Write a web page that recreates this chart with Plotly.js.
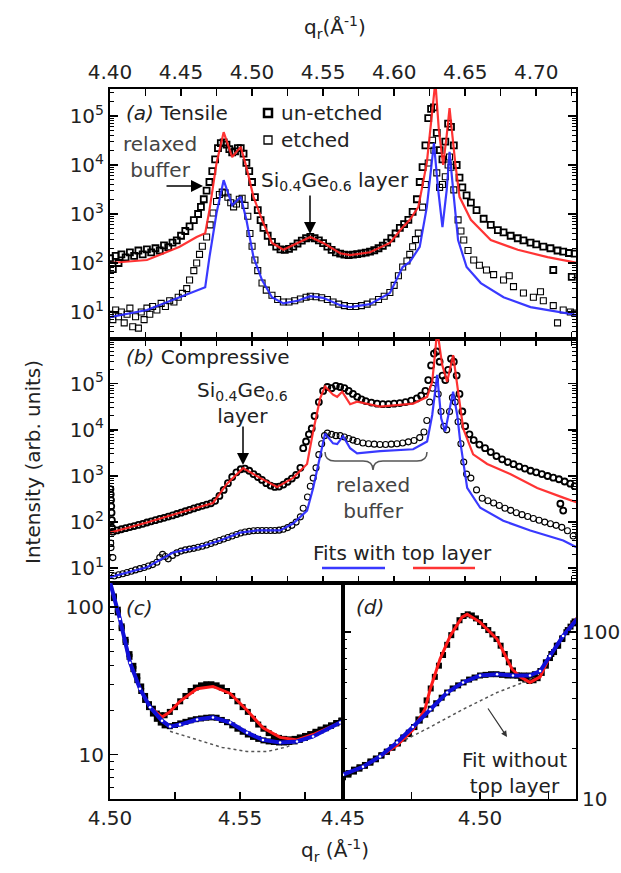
<!DOCTYPE html>
<html><head><meta charset="utf-8">
<script src="https://cdn.plot.ly/plotly-3.0.1.min.js"></script>
<style>html,body{margin:0;padding:0;background:#fff}</style>
</head><body><div id="chart" style="width:621px;height:873px"></div>
<script>
// ---------- Panel (a) Tensile ----------
const qA_red = [4.400,4.426,4.449,4.461,4.467,4.470,4.475,4.480,4.486,4.492,4.496,4.501,4.507,4.514,4.522,4.532,4.541,4.550,4.562,4.569,4.583,4.597,4.606,4.611,4.617,4.623,4.627,4.629,4.6315,4.6345,4.637,4.639,4.643,4.646,4.654,4.668,4.687,4.708,4.729];
const vA_red = [100,115,214,339,407,1200,11000,46800,14500,23400,9100,2240,760,257,186,257,339,257,158,145,166,257,537,760,1380,11000,115000,500000,50000,10000,40000,145000,11000,2240,760,295,186,132,100];
const qA_blue = [4.400,4.426,4.449,4.467,4.470,4.475,4.480,4.486,4.492,4.496,4.501,4.507,4.514,4.522,4.532,4.541,4.550,4.562,4.569,4.583,4.597,4.606,4.611,4.618,4.623,4.628,4.631,4.634,4.637,4.639,4.642,4.645,4.651,4.661,4.677,4.696,4.729];
const vA_blue = [7.9,11,20,32,132,1050,4900,1510,2240,760,132,45,20,15,17,21,19.5,13.8,12.6,14.5,24.5,83,105,214,1380,28000,3090,537,3090,18600,2240,295,83,39,20,12.6,8.7];
const qA_un = [4.400,4.402,4.404,4.406,4.408,4.411,4.414,4.417,4.420,4.423,
  4.426,4.429,4.432,4.435,4.438,4.441,4.444,4.447,4.450,4.453,
  4.456,4.459,4.462,4.464,4.466,4.468,4.470,4.472,4.474,4.476,
  4.478,4.480,4.482,4.484,4.486,4.488,4.490,4.492,4.494,4.496,
  4.498,4.500,4.502,4.504,4.506,4.508,4.511,4.514,4.517,4.520,
  4.523,4.526,4.529,4.532,4.535,4.538,4.541,4.544,4.547,4.550,
  4.553,4.556,4.559,4.562,4.565,4.568,4.571,4.574,4.577,4.580,
  4.583,4.586,4.589,4.592,4.595,4.598,4.601,4.604,4.607,4.610,
  4.613,4.616,4.618,4.620,4.622,4.624,4.626,4.628,4.630,4.632,
  4.634,4.636,4.638,4.640,4.642,4.644,4.646,4.648,4.651,4.654,
  4.658,4.663,4.668,4.673,4.677,4.682,4.687,4.691,4.696,4.700,
  4.705,4.710,4.712,4.715,4.719,4.723,4.725,4.727];
const vA_un = [125,75,140,100,150,130,165,140,180,150,
  190,165,200,180,230,210,260,290,360,450,
  560,750,1000,1400,2000,3000,4500,7500,13000,22000,
  28000,29000,26000,21000,18000,19000,22000,22000,17000,11000,
  7500,4500,2200,1200,750,520,360,270,215,190,
  185,195,215,250,285,320,340,320,290,255,
  215,185,165,155,148,145,148,152,158,163,
  170,182,200,225,260,320,400,520,620,760,
  1100,2000,4500,9000,25000,90000,140000,150000,45000,20000,
  13000,30000,70000,60000,25000,10000,5500,3500,2400,1700,
  1200,800,600,470,420,360,320,290,260,240,
  215,200,72,180,170,160,52,155];
const qA_et = [4.400,4.402,4.404,4.406,4.408,4.410,4.412,4.414,4.416,4.418,
  4.420,4.422,4.424,4.426,4.428,4.430,4.433,4.436,4.439,4.442,
  4.445,4.448,4.451,4.454,4.456,4.459,4.461,4.463,4.465,4.468,
  4.4705,4.4725,4.475,4.477,4.479,4.481,4.483,4.485,4.487,4.489,
  4.491,4.493,4.495,4.497,4.4985,4.500,4.502,4.504,4.507,4.510,
  4.514,4.518,4.522,4.526,4.530,4.534,4.538,4.541,4.545,4.549,
  4.553,4.557,4.561,4.565,4.569,4.573,4.577,4.581,4.585,4.589,
  4.593,4.597,4.600,4.603,4.606,4.609,4.611,4.613,4.615,4.617,
  4.620,4.622,4.624,4.626,4.627,4.628,4.630,4.632,4.634,4.636,
  4.638,4.639,4.640,4.642,4.645,4.647,4.649,4.652,4.656,4.660,
  4.665,4.670,4.677,4.684,4.691,4.698,4.705,4.712,4.719,4.724,
  4.727,4.703,4.715,4.681];
const vA_et = [9,7,11,8,10,6,9,12,5,8,
  4.7,10,7,12,9,13,11,15,13,17,
  16,20,24,30,45,70,100,150,220,340,
  600,1050,1800,2500,2800,2700,2200,1700,1400,1600,
  2000,2100,1500,900,400,220,115,70,39,28,
  22,18,16,16,17,18.5,20,21,20.5,19.5,
  18,16,14.5,13.5,13,13,13.5,14.5,16,18,
  21,25,35,55,83,110,150,214,300,407,
  1380,4000,11000,25000,32000,20000,6900,3500,4000,5750,
  10000,14500,9000,3100,760,450,295,180,115,90,
  72,58,45,33,24.5,20,17,13.5,11,10,
  9.5,26,6,55];

// ---------- Panel (b) Compressive ----------
const qB_red = [4.400,4.426,4.449,4.4725,4.4824,4.4937,4.5056,4.5176,4.5289,4.5387,4.5430,4.5479,4.5514,4.5570,4.5599,4.5634,4.5690,4.5739,4.5901,4.6134,4.6232,4.6268,4.6289,4.6303,4.6338,4.6373,4.6415,4.6451,4.6486,4.6556,4.6655,4.6817,4.7007,4.7190,4.7289];
const vB_red = [59,98,160,260,680,1480,910,575,910,1820,9300,48000,87000,58000,52000,67000,36000,41000,32000,37000,52000,110000,490000,1500000,257000,110000,417000,67000,10700,2950,1820,1100,550,340,265];
const qB_blue = [4.400,4.4261,4.4444,4.4613,4.4775,4.4915,4.5035,4.5197,4.5289,4.5387,4.5430,4.5479,4.5514,4.5570,4.5599,4.5641,4.5690,4.5739,4.5901,4.6134,4.6232,4.6268,4.6303,4.6331,4.6359,4.6387,4.6415,4.6444,4.6465,4.6514,4.6606,4.6768,4.6958,4.7190,4.7289];
const vB_blue = [6.4,10.5,22,28,40,59,66,66,93,178,550,2950,8300,5100,4900,7300,4000,3100,3470,3800,5600,21000,155000,17800,9300,25000,67000,21000,5600,550,205,107,66,40,28];
const qB_un = [4.4003,4.4005,4.4007,4.4009,4.4011,4.4013,4.4015,4.402,4.405,4.408,
  4.411,4.414,4.417,4.420,4.423,4.426,4.429,4.432,4.435,4.438,
  4.441,4.444,4.447,4.450,4.453,4.456,4.459,4.462,4.465,4.468,
  4.471,4.474,4.477,4.480,4.483,4.486,4.489,4.492,4.495,4.498,
  4.501,4.504,4.507,4.510,4.513,4.516,4.519,4.522,4.525,4.528,
  4.531,4.534,4.536,4.538,4.540,4.542,4.544,4.547,4.550,4.553,
  4.556,4.559,4.562,4.565,4.568,4.571,4.574,4.577,4.580,4.584,
  4.588,4.592,4.596,4.600,4.604,4.608,4.612,4.616,4.619,4.622,
  4.624,4.626,4.628,4.630,4.632,4.634,4.636,4.638,4.640,4.642,
  4.644,4.646,4.648,4.650,4.653,4.656,4.660,4.664,4.668,4.672,
  4.676,4.680,4.684,4.688,4.692,4.696,4.700,4.704,4.708,4.712,
  4.716,4.717,4.719,4.720,4.724,4.727];
const vB_un = [520,400,300,220,160,110,75,62,66,70,
  74,78,82,87,92,98,104,110,117,124,
  132,140,150,160,172,185,198,212,226,240,
  255,290,370,500,700,950,1200,1400,1450,1300,
  1100,950,820,700,620,580,590,650,750,880,
  1050,1500,4000,5600,8000,10700,20000,40000,70000,85000,
  80000,90000,85000,80000,70000,60000,52000,46000,42000,39000,
  37000,36000,36000,37000,38000,40000,43000,48000,55000,70000,
  120000,250000,450000,500000,300000,150000,120000,200000,350000,300000,
  150000,60000,25000,12000,8000,6000,4800,4000,3300,2700,
  2300,2000,1800,1600,1450,1300,1200,1100,1000,920,
  850,250,178,760,680,600];
const qB_et = [4.4005,4.4007,4.402,4.403,4.406,4.409,4.412,4.415,4.418,4.421,
  4.424,4.427,4.430,4.433,4.435,4.437,4.439,4.441,4.444,4.447,
  4.450,4.453,4.456,4.459,4.462,4.465,4.468,4.471,4.474,4.477,
  4.480,4.483,4.486,4.489,4.492,4.495,4.498,4.501,4.504,4.507,
  4.510,4.513,4.516,4.519,4.522,4.525,4.528,4.531,4.534,4.536,
  4.539,4.541,4.543,4.545,4.547,4.549,4.551,4.553,4.556,4.559,
  4.562,4.565,4.568,4.571,4.574,4.578,4.582,4.586,4.590,4.594,
  4.598,4.602,4.606,4.610,4.614,4.618,4.621,4.623,4.625,4.627,
  4.629,4.631,4.633,4.635,4.637,4.639,4.641,4.643,4.645,4.647,
  4.649,4.651,4.654,4.658,4.662,4.666,4.670,4.674,4.678,4.682,
  4.686,4.690,4.694,4.698,4.702,4.706,4.710,4.714,4.718,4.722,4.726];
const vB_et = [35,28,17,6.8,7.2,7.6,8.1,8.6,9.2,9.8,
  10.4,11.2,12,13.5,17,20,18,16,19,21.5,
  23.5,25,26,27,28.5,30,32,34.5,37,40,
  43,46.5,50,54,58,61,63,65,66,66,
  66,66,66,67,70,76,85,100,130,200,
  350,600,900,1500,2900,5000,7500,8500,8000,7500,
  7500,7000,6500,6000,5600,5200,5000,4900,4800,4800,
  4900,5000,5200,5500,5900,6800,9000,16000,40000,80000,
  120000,60000,25000,12000,10000,25000,50000,40000,15000,5000,
  2000,1100,900,500,330,290,260,230,200,180,
  160,145,132,120,110,100,92,85,77,65,50];

// ---------- Panel (c) ----------
const qC_red = [4.5000,4.5038,4.5077,4.5115,4.5154,4.5200,4.5230,4.5269,4.5335,4.5396,4.5462,4.5527,4.5588,4.5654,4.5719,4.5781,4.5885,4.5896];
const vC_red = [148,83,42,28,21,18,19.5,23,28,29,26,20,15.2,13.1,12.6,13.7,16.5,17];
const qC_blue = [4.5000,4.5038,4.5077,4.5115,4.5154,4.5200,4.5231,4.5269,4.5335,4.5396,4.5462,4.5527,4.5588,4.5654,4.5719,4.5781,4.5885,4.5896];
const vC_blue = [148,83,42,28,21,17,15.5,16,17.3,17.9,16.5,14.1,12.6,12.1,12.3,13.3,16.5,17];
const qC_none = [4.5231,4.5335,4.5431,4.5527,4.5604,4.5681,4.5720];
const vC_none = [14.4,12.6,11.2,10.5,10.5,11.3,12.3];
const qC_pts = [4.5000,4.5015,4.5030,4.5045,4.5060,4.5075,4.5090,4.5105,4.5120,4.5135,
  4.5150,4.5165,4.5180,4.5195,4.5210,4.5230,4.5250,4.5270,4.5290,4.5310,
  4.5330,4.5350,4.5370,4.5390,4.5410,4.5430,4.5450,4.5470,4.5490,4.5510,
  4.5530,4.5550,4.5570,4.5590,4.5610,4.5630,4.5650,4.5670,4.5690,4.5710,
  4.5730,4.5750,4.5770,4.5790,4.5810,4.5830,4.5850,4.5870,4.5890];
const vC_un = [140,118,96,74,60,48,40,34,29,25,
  22,20.5,19,18.5,18.5,19.5,21,23,25,27,
  28.5,29.5,30,30,29.5,28.5,27,25,23,21,
  19.5,17.5,16,15,14,13.3,13,12.8,12.7,12.8,
  13.1,13.4,13.8,14.3,14.8,15.3,15.8,16.4,17];
const vC_et = [145,115,92,72,58,46,38,32,27,23.5,
  21,19,17.5,16.5,15.8,15.6,15.9,16.3,16.7,17.1,
  17.4,17.6,17.8,17.9,17.8,17.2,16.6,15.8,15,14.3,
  13.7,13.2,12.8,12.5,12.3,12.2,12.1,12.1,12.2,12.3,
  12.6,13,13.5,14,14.6,15.1,15.7,16.3,17];

// ---------- Panel (d) ----------
const qD_red = [4.4500,4.4573,4.4635,4.4697,4.4755,4.4792,4.4799,4.4818,4.4854,4.4891,4.4934,4.4953,4.5000,4.5062,4.5117,4.5146,4.5182,4.5219,4.5255,4.5303,4.5354];
const vD_red = [14,15.6,18,21,26,33,34.5,45.5,69,95,123,128,115,91,60,54,50,54,72,95,122];
const qD_blue = [4.4500,4.4573,4.4635,4.4697,4.4755,4.4818,4.4880,4.4938,4.5000,4.5062,4.5120,4.5182,4.5219,4.5255,4.5303,4.5354];
const vD_blue = [14,15.6,18,21.8,27,34.5,43.5,50,55,56,55,55,58.5,72,95,120];
const qD_none = [4.4708,4.4818,4.4938,4.5062,4.5157,4.5200];
const vD_none = [21.8,27,34.5,43.5,50,54];
const qD_un = [4.4500,4.4520,4.4540,4.4560,4.4580,4.4600,4.4620,4.4640,4.4660,4.4680,
  4.4700,4.4720,4.4740,4.4760,4.4775,4.4790,4.4805,4.4820,4.4835,4.4850,
  4.4865,4.4880,4.4895,4.4910,4.4925,4.4940,4.4955,4.4970,4.4985,4.5000,
  4.5015,4.5030,4.5045,4.5060,4.5075,4.5090,4.5105,4.5120,4.5135,4.5150,
  4.5165,4.5180,4.5195,4.5210,4.5225,4.5240,4.5255,4.5270,4.5285,4.5300,
  4.5315,4.5330,4.5345];
const vD_un = [13.5,14,14.6,15.2,15.8,16.5,17.3,18.2,19.2,20.3,
  21.5,23,24.5,27,30,34,39,46,54,63,
  73,84,96,107,118,125,128,126,121,115,
  109,103,97,91,83,74,66,59,55,53,
  52,51,51.5,53,57,63,70,76,83,91,
  100,108,116];
const qD_et = [4.4500,4.4520,4.4540,4.4560,4.4580,4.4600,4.4620,4.4640,4.4660,4.4680,
  4.4700,4.4720,4.4740,4.4760,4.4780,4.4800,4.4820,4.4840,4.4860,4.4880,
  4.4900,4.4920,4.4940,4.4960,4.4980,4.5000,4.5020,4.5040,4.5060,4.5080,
  4.5100,4.5120,4.5140,4.5160,4.5180,4.5200,4.5220,4.5240,4.5260,4.5280,
  4.5300,4.5320,4.5340];
const vD_et = [14,14.3,15,15.5,16,16.8,17.5,18.3,19.2,20.4,
  21.8,23.4,25,27,29.5,32,34.8,37.5,40.5,43.5,
  46,48,50,52,53.5,55,55.5,56,56,55.5,
  55,55,55,55,55,56,58.5,66,74,83,
  92,103,113];

// ---------- Tick labels ----------
const decadeVals = [10,100,1000,10000,100000];
const decadeText = ['10<sup>1</sup>','10<sup>2</sup>','10<sup>3</sup>','10<sup>4</sup>','10<sup>5</sup>'];
const topTickVals = [4.40,4.45,4.50,4.55,4.60,4.65,4.70];
const cTickVals = [4.50,4.55], cTickText = ['4.50','4.55'];
const dTickVals = [4.45,4.50], dTickText = ['4.45','4.50'];
const smallLogVals = [10,100], smallLogText = ['10','100'];

// ---------- layout helpers (positions only) ----------
const W = 621, H = 873;
const fx = p => p / W, fy = p => 1 - p / H;
function minorLog(lo, hi) { const out = []; for (let e = lo; e <= hi; e++) for (let m = 2; m <= 9; m++) out.push(m * Math.pow(10, e)); return out; }
const FONT = {family: 'DejaVu Sans, Arial, sans-serif', size: 20, color: '#222'};
const RED = 'rgba(255,35,35,0.92)', BLUE = 'rgba(40,40,255,0.92)';

function xAx(extra) {
  return Object.assign({showgrid: false, zeroline: false, showline: true, linewidth: 2, linecolor: '#000',
    ticks: 'inside', ticklen: 7, tickwidth: 1.5, tickcolor: '#000', mirror: 'ticks', tickfont: FONT, tickformat: '.2f'}, extra);
}
function yLog(extra) {
  return Object.assign({type: 'log', showgrid: false, zeroline: false, showline: true, linewidth: 2, linecolor: '#000',
    ticks: 'inside', ticklen: 8, tickwidth: 1.5, tickcolor: '#000', mirror: 'ticks', tickfont: FONT, tickmode: 'array'}, extra);
}

const MS = 6;
const traces = [
  // (a)
  {x: qA_un, y: vA_un, xaxis: 'x', yaxis: 'y', mode: 'markers', marker: {symbol: 'square-open', size: MS, color: '#000', line: {width: 1.8, color: '#000'}}},
  {x: qA_et, y: vA_et, xaxis: 'x', yaxis: 'y', mode: 'markers', marker: {symbol: 'square-open', size: MS, color: '#000', line: {width: 1.1, color: '#000'}}},
  {x: qA_red, y: vA_red, xaxis: 'x', yaxis: 'y', mode: 'lines', line: {color: RED, width: 2.2}},
  {x: qA_blue, y: vA_blue, xaxis: 'x', yaxis: 'y', mode: 'lines', line: {color: BLUE, width: 2.2}},
  // (b)
  {x: qB_un, y: vB_un, xaxis: 'x2', yaxis: 'y2', mode: 'markers', marker: {symbol: 'circle-open', size: MS, color: '#000', line: {width: 1.8, color: '#000'}}},
  {x: qB_et, y: vB_et, xaxis: 'x2', yaxis: 'y2', mode: 'markers', marker: {symbol: 'circle-open', size: MS, color: '#000', line: {width: 1.1, color: '#000'}}},
  {x: qB_red, y: vB_red, xaxis: 'x2', yaxis: 'y2', mode: 'lines', line: {color: RED, width: 2.2}},
  {x: qB_blue, y: vB_blue, xaxis: 'x2', yaxis: 'y2', mode: 'lines', line: {color: BLUE, width: 2.2}},
  // (c)
  {x: qC_pts, y: vC_un, xaxis: 'x3', yaxis: 'y3', mode: 'markers', marker: {symbol: 'square', size: 6, color: '#000'}},
  {x: qC_pts, y: vC_et, xaxis: 'x3', yaxis: 'y3', mode: 'markers', marker: {symbol: 'square', size: 6, color: '#000'}},
  {x: qC_none, y: vC_none, xaxis: 'x3', yaxis: 'y3', mode: 'lines', line: {color: '#555', width: 1.5, dash: 'dot'}},
  {x: qC_red, y: vC_red, xaxis: 'x3', yaxis: 'y3', mode: 'lines', line: {color: '#ff1a1a', width: 3}},
  {x: qC_blue, y: vC_blue, xaxis: 'x3', yaxis: 'y3', mode: 'lines+markers', line: {color: '#1010d8', width: 4}, marker: {color: '#fff', size: 2.5}},
  // (d)
  {x: qD_un, y: vD_un, xaxis: 'x4', yaxis: 'y4', mode: 'markers', marker: {symbol: 'square', size: 6, color: '#000'}},
  {x: qD_et, y: vD_et, xaxis: 'x4', yaxis: 'y4', mode: 'markers', marker: {symbol: 'square', size: 6, color: '#000'}},
  {x: qD_none, y: vD_none, xaxis: 'x4', yaxis: 'y4', mode: 'lines', line: {color: '#555', width: 1.5, dash: 'dot'}},
  {x: qD_red, y: vD_red, xaxis: 'x4', yaxis: 'y4', mode: 'lines', line: {color: '#ff1a1a', width: 3}},
  {x: qD_blue, y: vD_blue, xaxis: 'x4', yaxis: 'y4', mode: 'lines+markers', line: {color: '#1010d8', width: 4}, marker: {color: '#fff', size: 2.5}}
];

function note(text, px, py, extra) {
  return Object.assign({text: text, x: fx(px), y: fy(py), xref: 'paper', yref: 'paper', xanchor: 'center', yanchor: 'middle',
    showarrow: false, font: FONT}, extra || {});
}
function arrow(hx, hy, ax, ay, extra) {
  return Object.assign({text: '', x: fx(hx), y: fy(hy), xref: 'paper', yref: 'paper', showarrow: true, ax: ax, ay: ay,
    arrowhead: 2, arrowsize: 1.6, arrowwidth: 1.5, arrowcolor: '#000', standoff: 0, startstandoff: 0}, extra || {});
}
const GREY = Object.assign({}, FONT, {color: '#444'});

const bracePath = 'M ' + fx(325) + ',' + fy(452) + ' Q ' + fx(325) + ',' + fy(461) + ' ' + fx(335) + ',' + fy(461) +
  ' L ' + fx(363) + ',' + fy(461) + ' Q ' + fx(373) + ',' + fy(461) + ' ' + fx(373) + ',' + fy(470) +
  ' Q ' + fx(373) + ',' + fy(461) + ' ' + fx(383) + ',' + fy(461) + ' L ' + fx(417) + ',' + fy(461) +
  ' Q ' + fx(427) + ',' + fy(461) + ' ' + fx(427) + ',' + fy(452);

const layout = {
  width: W, height: H, autosize: false, showlegend: false, hovermode: false,
  margin: {l: 0, r: 0, t: 0, b: 0, pad: 0},
  paper_bgcolor: '#fff', plot_bgcolor: '#fff', font: FONT,
  xaxis: xAx({domain: [fx(110), fx(576)], anchor: 'y', side: 'top', range: [4.40, 4.728], tickmode: 'array', tickvals: topTickVals,
    minor: {dtick: 0.025, tick0: 4.40, ticks: 'inside', ticklen: 7, tickwidth: 1.5, tickcolor: '#000'}}),
  yaxis: yLog({domain: [fy(339), fy(89)], anchor: 'x', range: [0.45, 5.55], tickvals: decadeVals, ticktext: decadeText,
    minor: {tickmode: 'array', tickvals: minorLog(0, 5), ticks: 'inside', ticklen: 4, tickwidth: 1, tickcolor: '#000'}}),
  xaxis2: xAx({domain: [fx(110), fx(576)], anchor: 'y2', side: 'bottom', range: [4.40, 4.728], tickmode: 'array', tickvals: topTickVals, showticklabels: false,
    minor: {dtick: 0.025, tick0: 4.40, ticks: 'inside', ticklen: 7, tickwidth: 1.5, tickcolor: '#000'}}),
  yaxis2: yLog({domain: [fy(583), fy(339)], anchor: 'x2', range: [0.68, 5.97], tickvals: decadeVals, ticktext: decadeText,
    minor: {tickmode: 'array', tickvals: minorLog(0, 5), ticks: 'inside', ticklen: 4, tickwidth: 1, tickcolor: '#000'}}),
  xaxis3: xAx({domain: [fx(110), fx(343)], anchor: 'y3', side: 'bottom', range: [4.50, 4.5896], tickmode: 'array', tickvals: cTickVals, ticktext: cTickText, mirror: true,
    minor: {tickmode: 'array', tickvals: [4.525, 4.575], ticks: 'inside', ticklen: 7, tickwidth: 1.5, tickcolor: '#000'}}),
  yaxis3: yLog({domain: [fy(799), fy(583)], anchor: 'x3', range: [0.70, 2.163], tickvals: smallLogVals, ticktext: smallLogText, mirror: true,
    minor: {tickmode: 'array', tickvals: minorLog(0, 2), ticks: 'inside', ticklen: 4, tickwidth: 1, tickcolor: '#000'}}),
  xaxis4: xAx({domain: [fx(343), fx(576)], anchor: 'y4', side: 'bottom', range: [4.45, 4.535], tickmode: 'array', tickvals: dTickVals, ticktext: dTickText, mirror: true,
    minor: {tickmode: 'array', tickvals: [4.475, 4.525], ticks: 'inside', ticklen: 7, tickwidth: 1.5, tickcolor: '#000'}}),
  yaxis4: yLog({domain: [fy(799), fy(583)], anchor: 'x4', side: 'right', range: [1, 2.295], tickvals: smallLogVals, ticktext: smallLogText,
    minor: {tickmode: 'array', tickvals: minorLog(1, 2), ticks: 'inside', ticklen: 4, tickwidth: 1, tickcolor: '#000'}}),
  annotations: [
    note('q<sub>r</sub>(Å<sup>-1</sup>)', 335, 27),
    note('q<sub>r</sub> (Å<sup>-1</sup>)', 335, 850),
    note('Intensity (arb. units)', 33, 462, {textangle: -90}),
    note('<i>(a)</i> Tensile', 124, 113, {xanchor: 'left'}),
    note('un-etched', 279, 113, {xanchor: 'left'}),
    note('etched', 279, 140, {xanchor: 'left'}),
    note('relaxed<br>buffer', 160, 157, {font: GREY}),
    note('Si<sub>0.4</sub>Ge<sub>0.6</sub> layer', 335, 181),
    note('<i>(b)</i> Compressive', 124, 357, {xanchor: 'left'}),
    note('Si<sub>0.4</sub>Ge<sub>0.6</sub><br>layer', 242, 403),
    note('relaxed<br>buffer', 373, 498, {font: GREY}),
    note('Fits with top layer', 402, 553),
    note('<i>(c)</i>', 124, 608, {xanchor: 'left'}),
    note('<i>(d)</i>', 354, 607, {xanchor: 'left'}),
    note('Fit without<br>top layer', 514, 773),
    arrow(203, 186, -38, 0),
    arrow(310, 234, 0, -40),
    arrow(243, 465, 0, -40),
    arrow(507, 737, -20, -30, {arrowsize: 1, arrowwidth: 1.2, arrowcolor: '#333'})
  ],
  shapes: [
    {type: 'path', xref: 'paper', yref: 'paper', path: bracePath, line: {color: '#555', width: 1.5}},
    {type: 'line', xref: 'paper', yref: 'paper', x0: fx(322), x1: fx(385), y0: fy(568), y1: fy(568), line: {color: BLUE, width: 2.5}},
    {type: 'line', xref: 'paper', yref: 'paper', x0: fx(413), x1: fx(475), y0: fy(568), y1: fy(568), line: {color: RED, width: 2.5}},
    {type: 'rect', xref: 'paper', yref: 'paper', x0: fx(264), x1: fx(272), y0: fy(117), y1: fy(109), line: {color: '#000', width: 2.5}},
    {type: 'rect', xref: 'paper', yref: 'paper', x0: fx(264), x1: fx(272), y0: fy(144), y1: fy(136), line: {color: '#000', width: 1.3}}
  ]
};

Plotly.newPlot('chart', traces, layout, {staticPlot: true, displayModeBar: false});
</script>
</body></html>
